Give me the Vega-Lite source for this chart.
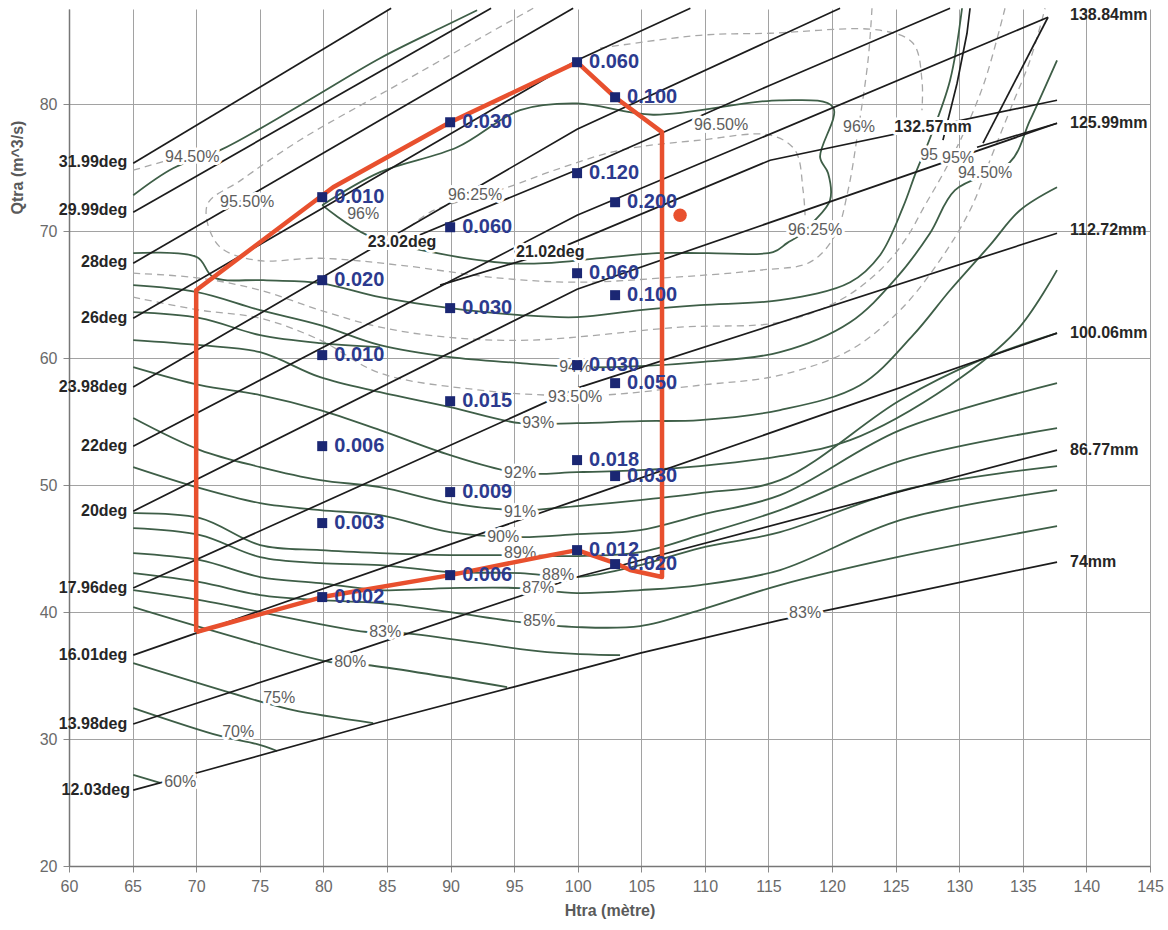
{
"$schema":"https://vega.github.io/schema/vega-lite/v6.json",
"width":1081,"height":857,
"autosize":{"type":"none"},
"padding":{"left":69,"top":9,"right":18,"bottom":64},
"background":"white",
"config":{"view":{"stroke":null},"font":"Liberation Sans"},
"datasets":{
"deg":[
{"id":"d12","i":0,"x":65.05,"y":25.98},{"id":"d12","i":1,"x":70.31,"y":27.4},{"id":"d12","i":2,"x":84.46,"y":31.34},{"id":"d12","i":3,"x":94.93,"y":34.09},{"id":"d12","i":4,"x":104.91,"y":36.77},{"id":"d12","i":5,"x":115.91,"y":39.37},{"id":"d12","i":6,"x":119.3,"y":40.08},{"id":"d12","i":7,"x":137.69,"y":43.94},
{"id":"d14","i":0,"x":65.05,"y":31.18},{"id":"d14","i":1,"x":79.91,"y":36.06},{"id":"d14","i":2,"x":99.95,"y":42.76},{"id":"d14","i":3,"x":137.69,"y":52.76},
{"id":"d16","i":0,"x":65.05,"y":36.61},{"id":"d16","i":1,"x":99.95,"y":48.82},{"id":"d16","i":2,"x":137.69,"y":61.97},
{"id":"d18","i":0,"x":65.05,"y":41.89},{"id":"d18","i":1,"x":99.95,"y":57.64},{"id":"d18","i":2,"x":137.69,"y":69.84},
{"id":"d20","i":0,"x":65.05,"y":47.95},{"id":"d20","i":1,"x":99.95,"y":65.43},{"id":"d20","i":2,"x":137.69,"y":78.5},
{"id":"d22","i":0,"x":65.05,"y":53.07},{"id":"d22","i":1,"x":99.95,"y":71.26},{"id":"d22","i":2,"x":136.98,"y":86.85},
{"id":"d24","i":0,"x":65.05,"y":57.72},{"id":"d24","i":1,"x":99.95,"y":78.03},{"id":"d24","i":2,"x":120.63,"y":87.56},
{"id":"d26","i":0,"x":65.05,"y":63.15},{"id":"d26","i":1,"x":99.95,"y":83.46},{"id":"d26","i":2,"x":108.86,"y":87.56},
{"id":"d28","i":0,"x":65.05,"y":67.48},{"id":"d28","i":1,"x":99.64,"y":87.56},
{"id":"d30","i":0,"x":65.05,"y":71.5},{"id":"d30","i":1,"x":93.19,"y":87.56},
{"id":"d32","i":0,"x":65.05,"y":75.35},{"id":"d32","i":1,"x":85.33,"y":87.56},
{"id":"m23","i":0,"x":86.19,"y":69.13},{"id":"m23","i":1,"x":101.76,"y":75.59},{"id":"m23","i":2,"x":115.13,"y":81.5},{"id":"m23","i":3,"x":129.28,"y":87.56},
{"id":"m21","i":0,"x":89.18,"y":65.75},{"id":"m21","i":1,"x":97.84,"y":68.35},{"id":"m21","i":2,"x":115.13,"y":75.59},{"id":"m21","i":3,"x":137.69,"y":80.31},
{"id":"l138","i":0,"x":131.87,"y":76.93},{"id":"l138","i":1,"x":136.98,"y":86.85},
{"id":"l126","i":0,"x":131.4,"y":76.61},{"id":"l126","i":1,"x":137.69,"y":78.5},
{"id":"l132","i":0,"x":128.72,"y":77.17},{"id":"l132","i":1,"x":129.83,"y":81.65},{"id":"l132","i":2,"x":130.61,"y":85.59},{"id":"l132","i":3,"x":130.85,"y":87.56}
],
"eff":[
{"id":"gTL","i":0,"x":65.05,"y":72.83},{"id":"gTL","i":1,"x":68.19,"y":74.96},{"id":"gTL","i":2,"x":71.89,"y":76.38},{"id":"gTL","i":3,"x":78.18,"y":79.92},{"id":"gTL","i":4,"x":84.46,"y":83.62},{"id":"gTL","i":5,"x":89.18,"y":85.98},{"id":"gTL","i":6,"x":92.09,"y":87.4},
{"id":"G96","i":0,"x":79.91,"y":72.05},{"id":"G96","i":1,"x":84.46,"y":74.65},{"id":"G96","i":2,"x":90.52,"y":76.61},{"id":"G96","i":3,"x":95.47,"y":79.53},{"id":"G96","i":4,"x":99.95,"y":80.06},{"id":"G96","i":5,"x":105.93,"y":79.17},{"id":"G96","i":6,"x":115.91,"y":80.31},{"id":"G96","i":7,"x":120.08,"y":79.76},{"id":"G96","i":8,"x":119.06,"y":75.83},{"id":"G96","i":9,"x":119.69,"y":74.57},{"id":"G96","i":10,"x":119.84,"y":72.44},{"id":"G96","i":11,"x":118.51,"y":70.71},{"id":"G96","i":12,"x":117.48,"y":69.69},{"id":"G96","i":13,"x":116.46,"y":69.06},{"id":"G96","i":14,"x":115.36,"y":68.35},{"id":"G96","i":15,"x":110.17,"y":68.27},{"id":"G96","i":16,"x":106.24,"y":68.27},{"id":"G96","i":17,"x":101.76,"y":67.87},{"id":"G96","i":18,"x":97.44,"y":67.48},{"id":"G96","i":19,"x":94.45,"y":67.48},{"id":"G96","i":20,"x":88.95,"y":68.27},{"id":"G96","i":21,"x":83.44,"y":69.69},{"id":"G96","i":22,"x":79.91,"y":72.05},
{"id":"g95","i":0,"x":65.05,"y":68.27},{"id":"g95","i":1,"x":70.08,"y":67.95},{"id":"g95","i":2,"x":71.34,"y":66.38},{"id":"g95","i":3,"x":75.27,"y":66.14},{"id":"g95","i":4,"x":79.75,"y":65.91},{"id":"g95","i":5,"x":84.46,"y":64.8},{"id":"g95","i":6,"x":89.97,"y":63.94},{"id":"g95","i":7,"x":95.47,"y":63.39},{"id":"g95","i":8,"x":99.95,"y":63.23},{"id":"g95","i":9,"x":104.91,"y":63.78},{"id":"g95","i":10,"x":109.62,"y":64.17},{"id":"g95","i":11,"x":115.91,"y":64.57},{"id":"g95","i":12,"x":121.42,"y":65.98},{"id":"g95","i":13,"x":123.77,"y":68.11},{"id":"g95","i":14,"x":125.58,"y":71.89},{"id":"g95","i":15,"x":126.6,"y":74.65},{"id":"g95","i":16,"x":127.7,"y":77.32},{"id":"g95","i":17,"x":129.28,"y":81.89},{"id":"g95","i":18,"x":130.22,"y":87.56},
{"id":"g94","i":0,"x":65.05,"y":65.75},{"id":"g94","i":1,"x":70.08,"y":65.2},{"id":"g94","i":2,"x":75.03,"y":63.78},{"id":"g94","i":3,"x":79.75,"y":62.6},{"id":"g94","i":4,"x":84.46,"y":61.02},{"id":"g94","i":5,"x":89.97,"y":60.08},{"id":"g94","i":6,"x":95.47,"y":59.61},{"id":"g94","i":7,"x":99.95,"y":59.29},{"id":"g94","i":8,"x":104.91,"y":59.37},{"id":"g94","i":9,"x":109.62,"y":59.69},{"id":"g94","i":10,"x":115.91,"y":60.47},{"id":"g94","i":11,"x":121.42,"y":62.83},{"id":"g94","i":12,"x":125.11,"y":66.38},{"id":"g94","i":13,"x":127.7,"y":69.84},{"id":"g94","i":14,"x":129.67,"y":73.23},{"id":"g94","i":15,"x":133.99,"y":75.43},{"id":"g94","i":16,"x":135.57,"y":78.74},{"id":"g94","i":17,"x":137.69,"y":83.46},
{"id":"gX","i":0,"x":65.05,"y":63.62},{"id":"gX","i":1,"x":70.31,"y":63.15},{"id":"gX","i":2,"x":75.03,"y":61.81},{"id":"gX","i":3,"x":79.75,"y":61.18},{"id":"gX","i":4,"x":84.46,"y":60.87},
{"id":"g93","i":0,"x":65.05,"y":61.42},{"id":"g93","i":1,"x":70.31,"y":61.02},{"id":"g93","i":2,"x":75.03,"y":60.47},{"id":"g93","i":3,"x":79.75,"y":58.5},{"id":"g93","i":4,"x":84.46,"y":57.32},{"id":"g93","i":5,"x":89.97,"y":56.14},{"id":"g93","i":6,"x":95.47,"y":54.88},{"id":"g93","i":7,"x":99.95,"y":54.88},{"id":"g93","i":8,"x":104.91,"y":55.04},{"id":"g93","i":9,"x":109.62,"y":55.12},{"id":"g93","i":10,"x":115.91,"y":55.91},{"id":"g93","i":11,"x":122.2,"y":57.87},{"id":"g93","i":12,"x":126.37,"y":61.81},{"id":"g93","i":13,"x":129.28,"y":65.35},{"id":"g93","i":14,"x":132.42,"y":68.9},{"id":"g93","i":15,"x":134.78,"y":71.65},{"id":"g93","i":16,"x":137.69,"y":73.46},
{"id":"g92","i":0,"x":65.05,"y":59.29},{"id":"g92","i":1,"x":70.31,"y":57.87},{"id":"g92","i":2,"x":75.03,"y":57.09},{"id":"g92","i":3,"x":79.75,"y":55.91},{"id":"g92","i":4,"x":84.46,"y":54.33},{"id":"g92","i":5,"x":89.97,"y":52.36},{"id":"g92","i":6,"x":95.47,"y":50.94},{"id":"g92","i":7,"x":99.95,"y":51.02},{"id":"g92","i":8,"x":104.91,"y":51.18},{"id":"g92","i":9,"x":109.62,"y":51.5},{"id":"g92","i":10,"x":115.91,"y":52.28},{"id":"g92","i":11,"x":121.42,"y":53.54},{"id":"g92","i":12,"x":129.28,"y":57.87},{"id":"g92","i":13,"x":134.54,"y":62.2},{"id":"g92","i":14,"x":137.69,"y":66.93},
{"id":"g91","i":0,"x":65.05,"y":55.28},{"id":"g91","i":1,"x":70.31,"y":52.76},{"id":"g91","i":2,"x":75.03,"y":51.42},{"id":"g91","i":3,"x":79.75,"y":50.39},{"id":"g91","i":4,"x":84.46,"y":49.84},{"id":"g91","i":5,"x":89.97,"y":48.58},{"id":"g91","i":6,"x":95.47,"y":48.03},{"id":"g91","i":7,"x":99.95,"y":48.35},{"id":"g91","i":8,"x":104.91,"y":48.82},{"id":"g91","i":9,"x":109.62,"y":49.37},{"id":"g91","i":10,"x":115.91,"y":50.39},{"id":"g91","i":11,"x":125.35,"y":56.69},{"id":"g91","i":12,"x":131.64,"y":59.84},{"id":"g91","i":13,"x":137.69,"y":61.97},
{"id":"g90","i":0,"x":65.05,"y":51.42},{"id":"g90","i":1,"x":70.31,"y":49.76},{"id":"g90","i":2,"x":75.03,"y":48.58},{"id":"g90","i":3,"x":79.75,"y":48.03},{"id":"g90","i":4,"x":84.46,"y":47.64},{"id":"g90","i":5,"x":89.97,"y":46.3},{"id":"g90","i":6,"x":95.47,"y":45.91},{"id":"g90","i":7,"x":99.95,"y":46.14},{"id":"g90","i":8,"x":104.91,"y":46.46},{"id":"g90","i":9,"x":109.62,"y":47.64},{"id":"g90","i":10,"x":115.91,"y":49.21},{"id":"g90","i":11,"x":125.35,"y":54.33},{"id":"g90","i":12,"x":137.69,"y":58.03},
{"id":"g89","i":0,"x":65.05,"y":47.8},{"id":"g89","i":1,"x":70.31,"y":47.4},{"id":"g89","i":2,"x":75.03,"y":45.28},{"id":"g89","i":3,"x":79.75,"y":44.88},{"id":"g89","i":4,"x":84.46,"y":44.65},{"id":"g89","i":5,"x":89.97,"y":44.49},{"id":"g89","i":6,"x":95.47,"y":44.49},{"id":"g89","i":7,"x":99.95,"y":44.41},{"id":"g89","i":8,"x":104.91,"y":44.72},{"id":"g89","i":9,"x":109.62,"y":46.06},{"id":"g89","i":10,"x":115.91,"y":48.03},{"id":"g89","i":11,"x":125.58,"y":51.97},{"id":"g89","i":12,"x":137.69,"y":54.49},
{"id":"g88","i":0,"x":65.05,"y":46.61},{"id":"g88","i":1,"x":70.31,"y":46.06},{"id":"g88","i":2,"x":75.03,"y":44.33},{"id":"g88","i":3,"x":79.75,"y":43.86},{"id":"g88","i":4,"x":84.46,"y":43.7},{"id":"g88","i":5,"x":89.97,"y":43.15},{"id":"g88","i":6,"x":95.47,"y":43.07},{"id":"g88","i":7,"x":99.95,"y":42.76},{"id":"g88","i":8,"x":104.91,"y":43.7},{"id":"g88","i":9,"x":109.62,"y":45.04},{"id":"g88","i":10,"x":115.91,"y":46.3},{"id":"g88","i":11,"x":125.58,"y":49.61},{"id":"g88","i":12,"x":137.69,"y":51.5},
{"id":"g87","i":0,"x":65.05,"y":44.65},{"id":"g87","i":1,"x":70.31,"y":44.09},{"id":"g87","i":2,"x":75.03,"y":42.76},{"id":"g87","i":3,"x":79.75,"y":42.28},{"id":"g87","i":4,"x":84.46,"y":41.73},{"id":"g87","i":5,"x":89.97,"y":41.89},{"id":"g87","i":6,"x":95.47,"y":41.89},{"id":"g87","i":7,"x":99.95,"y":41.5},{"id":"g87","i":8,"x":104.91,"y":41.73},{"id":"g87","i":9,"x":109.62,"y":42.13},{"id":"g87","i":10,"x":115.91,"y":43.31},{"id":"g87","i":11,"x":125.35,"y":47.24},{"id":"g87","i":12,"x":137.69,"y":49.61},
{"id":"g85","i":0,"x":65.05,"y":43.07},{"id":"g85","i":1,"x":70.31,"y":42.36},{"id":"g85","i":2,"x":75.03,"y":41.34},{"id":"g85","i":3,"x":79.75,"y":40.94},{"id":"g85","i":4,"x":84.46,"y":40.71},{"id":"g85","i":5,"x":89.97,"y":40.0},{"id":"g85","i":6,"x":95.47,"y":39.21},{"id":"g85","i":7,"x":99.95,"y":38.82},{"id":"g85","i":8,"x":104.91,"y":38.9},{"id":"g85","i":9,"x":109.62,"y":40.16},{"id":"g85","i":10,"x":115.91,"y":42.13},{"id":"g85","i":11,"x":125.11,"y":44.33},{"id":"g85","i":12,"x":137.69,"y":46.77},
{"id":"g83","i":0,"x":65.05,"y":41.73},{"id":"g83","i":1,"x":70.31,"y":40.94},{"id":"g83","i":2,"x":83.44,"y":38.43},{"id":"g83","i":3,"x":86.35,"y":38.35},{"id":"g83","i":4,"x":97.6,"y":36.85},{"id":"g83","i":5,"x":103.33,"y":36.61},
{"id":"g80","i":0,"x":65.05,"y":40.39},{"id":"g80","i":1,"x":80.53,"y":36.06},{"id":"g80","i":2,"x":83.44,"y":35.83},{"id":"g80","i":3,"x":94.45,"y":34.09},
{"id":"g75","i":0,"x":65.05,"y":35.98},{"id":"g75","i":1,"x":75.19,"y":32.91},{"id":"g75","i":2,"x":77.63,"y":32.28},{"id":"g75","i":3,"x":83.92,"y":31.26},
{"id":"g70","i":0,"x":65.05,"y":32.44},{"id":"g70","i":1,"x":71.89,"y":30.24},{"id":"g70","i":2,"x":74.72,"y":29.61},{"id":"g70","i":3,"x":76.37,"y":29.06},
{"id":"g60","i":0,"x":65.05,"y":27.17},{"id":"g60","i":1,"x":67.17,"y":26.54}
],
"dash":[
{"id":"d1","i":0,"x":96.5,"y":87.56},{"id":"d1","i":1,"x":86.04,"y":81.65},{"id":"d1","i":2,"x":78.2,"y":77.2},{"id":"d1","i":3,"x":73.5,"y":74.0},{"id":"d1","i":4,"x":70.86,"y":72.05},{"id":"d1","i":5,"x":71.73,"y":68.9},{"id":"d1","i":6,"x":74.64,"y":67.72},{"id":"d1","i":7,"x":79.75,"y":67.87},{"id":"d1","i":8,"x":86.04,"y":67.32},{"id":"d1","i":9,"x":93.9,"y":66.3},{"id":"d1","i":10,"x":99.95,"y":65.98},{"id":"d1","i":11,"x":106.48,"y":66.3},{"id":"d1","i":12,"x":114.34,"y":66.93},{"id":"d1","i":13,"x":118.27,"y":67.56},{"id":"d1","i":14,"x":120.24,"y":69.69},{"id":"d1","i":15,"x":121.26,"y":73.23},{"id":"d1","i":16,"x":122.05,"y":77.95},{"id":"d1","i":17,"x":122.83,"y":83.46},{"id":"d1","i":18,"x":123.14,"y":87.56},
{"id":"d2","i":0,"x":86.04,"y":69.69},{"id":"d2","i":1,"x":88.4,"y":71.5},{"id":"d2","i":2,"x":91.93,"y":72.68},{"id":"d2","i":3,"x":94.29,"y":73.39},{"id":"d2","i":4,"x":98.62,"y":74.96},{"id":"d2","i":5,"x":103.33,"y":76.38},{"id":"d2","i":6,"x":109.62,"y":77.17},{"id":"d2","i":7,"x":115.13,"y":77.56},{"id":"d2","i":8,"x":117.09,"y":76.38},{"id":"d2","i":9,"x":117.72,"y":73.23},{"id":"d2","i":10,"x":117.88,"y":71.26},
{"id":"d3","i":0,"x":65.05,"y":64.8},{"id":"d3","i":1,"x":70.31,"y":63.78},{"id":"d3","i":2,"x":75.03,"y":63.15},{"id":"d3","i":3,"x":79.75,"y":61.42},{"id":"d3","i":4,"x":84.46,"y":58.82},{"id":"d3","i":5,"x":92.33,"y":57.48},{"id":"d3","i":6,"x":97.6,"y":57.09},{"id":"d3","i":7,"x":102.0,"y":57.09},{"id":"d3","i":8,"x":109.62,"y":57.87},{"id":"d3","i":9,"x":115.91,"y":58.66},{"id":"d3","i":10,"x":121.42,"y":60.63},{"id":"d3","i":11,"x":125.35,"y":63.78},{"id":"d3","i":12,"x":128.49,"y":67.72},{"id":"d3","i":13,"x":130.85,"y":71.65},{"id":"d3","i":14,"x":132.42,"y":75.59},{"id":"d3","i":15,"x":133.99,"y":79.53},{"id":"d3","i":16,"x":135.57,"y":83.46},{"id":"d3","i":17,"x":136.75,"y":87.56},
{"id":"d4","i":0,"x":65.05,"y":66.69},{"id":"d4","i":1,"x":70.31,"y":66.3},{"id":"d4","i":2,"x":75.03,"y":65.35},{"id":"d4","i":3,"x":79.75,"y":63.78},{"id":"d4","i":4,"x":84.46,"y":62.44},{"id":"d4","i":5,"x":89.73,"y":61.65},{"id":"d4","i":6,"x":96.26,"y":61.42},{"id":"d4","i":7,"x":108.05,"y":62.44},{"id":"d4","i":8,"x":115.91,"y":62.83},{"id":"d4","i":9,"x":120.63,"y":64.57},{"id":"d4","i":10,"x":123.77,"y":66.93},{"id":"d4","i":11,"x":125.74,"y":69.29},{"id":"d4","i":12,"x":127.31,"y":72.05},{"id":"d4","i":13,"x":128.88,"y":74.8},{"id":"d4","i":14,"x":130.45,"y":77.95},{"id":"d4","i":15,"x":132.03,"y":81.89},{"id":"d4","i":16,"x":133.6,"y":87.56},
{"id":"d5","i":0,"x":65.05,"y":74.8},{"id":"d5","i":1,"x":68.35,"y":75.75},
{"id":"d6","i":0,"x":101.76,"y":84.41},{"id":"d6","i":1,"x":109.62,"y":85.43},{"id":"d6","i":2,"x":115.13,"y":85.59},{"id":"d6","i":3,"x":123.77,"y":85.83},{"id":"d6","i":4,"x":126.37,"y":84.8},{"id":"d6","i":5,"x":127.07,"y":81.89},{"id":"d6","i":6,"x":127.07,"y":79.53}
],
"env":[
{"i":0,"x":70.0,"y":38.43},{"i":1,"x":70.0,"y":65.35},{"i":2,"x":80.77,"y":73.46},{"i":3,"x":89.97,"y":78.58},{"i":4,"x":99.95,"y":83.31},{"i":5,"x":102.94,"y":80.55},{"i":6,"x":106.63,"y":77.8},{"i":7,"x":106.63,"y":42.76},{"i":8,"x":104.12,"y":43.31},{"i":9,"x":102.94,"y":43.86},{"i":10,"x":99.95,"y":44.88},{"i":11,"x":97.04,"y":44.33},{"i":12,"x":89.97,"y":42.91},{"i":13,"x":79.91,"y":41.18},{"i":14,"x":70.0,"y":38.43}
],
"pts":[
{"x":99.95,"y":83.31,"t":"0.060"},{"x":102.94,"y":80.55,"t":"0.100"},{"x":89.97,"y":78.58,"t":"0.030"},{"x":79.91,"y":72.68,"t":"0.010"},
{"x":99.95,"y":74.57,"t":"0.120"},{"x":102.94,"y":72.28,"t":"0.200"},{"x":89.97,"y":70.31,"t":"0.060"},{"x":79.91,"y":66.14,"t":"0.020"},
{"x":99.95,"y":66.69,"t":"0.060"},{"x":102.94,"y":64.96,"t":"0.100"},{"x":89.97,"y":63.94,"t":"0.030"},{"x":79.91,"y":60.24,"t":"0.010"},
{"x":99.95,"y":59.45,"t":"0.030"},{"x":102.94,"y":58.03,"t":"0.050"},{"x":89.97,"y":56.61,"t":"0.015"},{"x":79.91,"y":53.07,"t":"0.006"},
{"x":99.95,"y":51.97,"t":"0.018"},{"x":102.94,"y":50.71,"t":"0.030"},{"x":89.97,"y":49.45,"t":"0.009"},{"x":79.91,"y":47.01,"t":"0.003"},
{"x":99.95,"y":44.88,"t":"0.012"},{"x":102.94,"y":43.78,"t":"0.020"},{"x":89.97,"y":42.91,"t":"0.006"},{"x":79.91,"y":41.18,"t":"0.002"}
],
"effLabels":[
{"x":69.69,"y":75.83,"t":"94.50%"},{"x":74.01,"y":72.28,"t":"95.50%"},{"x":83.13,"y":71.34,"t":"96%"},{"x":91.93,"y":72.83,"t":"96.25%"},
{"x":111.27,"y":78.35,"t":"96.50%"},{"x":122.12,"y":78.19,"t":"96%"},{"x":127.63,"y":75.98,"t":"95"},{"x":129.91,"y":75.75,"t":"95%"},
{"x":132.03,"y":74.57,"t":"94.50%"},{"x":118.66,"y":70.08,"t":"96.25%"},{"x":99.8,"y":59.29,"t":"94%"},{"x":99.8,"y":56.93,"t":"93.50%"},
{"x":96.89,"y":54.88,"t":"93%"},{"x":95.47,"y":50.94,"t":"92%"},{"x":95.47,"y":47.87,"t":"91%"},{"x":94.14,"y":45.91,"t":"90%"},
{"x":95.47,"y":44.65,"t":"89%"},{"x":98.46,"y":42.91,"t":"88%"},{"x":96.89,"y":41.89,"t":"87%"},{"x":96.97,"y":39.29,"t":"85%"},
{"x":84.86,"y":38.43,"t":"83%"},{"x":82.11,"y":36.06,"t":"80%"},{"x":76.53,"y":33.23,"t":"75%"},{"x":73.3,"y":30.55,"t":"70%"},
{"x":68.74,"y":26.61,"t":"60%"},{"x":117.88,"y":39.92,"t":"83%"}
],
"midLabels":[
{"x":86.19,"y":69.13,"t":"23.02deg"},{"x":97.84,"y":68.35,"t":"21.02deg"},{"x":127.94,"y":78.19,"t":"132.57mm"}
],
"degLabels":[
{"x":64.58,"y":75.43,"t":"31.99deg"},{"x":64.58,"y":71.65,"t":"29.99deg"},{"x":64.58,"y":67.56,"t":"28deg"},{"x":64.58,"y":63.15,"t":"26deg"},
{"x":64.58,"y":57.72,"t":"23.98deg"},{"x":64.58,"y":53.07,"t":"22deg"},{"x":64.58,"y":47.95,"t":"20deg"},{"x":64.58,"y":41.89,"t":"17.96deg"},
{"x":64.58,"y":36.61,"t":"16.01deg"},{"x":64.58,"y":31.18,"t":"13.98deg"},{"x":64.8,"y":25.98,"t":"12.03deg"}
],
"mmLabels":[
{"x":138.71,"y":87.0,"t":"138.84mm"},{"x":138.71,"y":78.5,"t":"125.99mm"},{"x":138.71,"y":70.08,"t":"112.72mm"},
{"x":138.71,"y":61.97,"t":"100.06mm"},{"x":138.71,"y":52.76,"t":"86.77mm"},{"x":138.71,"y":43.94,"t":"74mm"}
],
"dot":[{"x":108.05,"y":71.26}]
},
"encoding":{
"x":{"field":"x","type":"quantitative","scale":{"domain":[60,145],"nice":false,"zero":false},
"axis":{"values":[60,65,70,75,80,85,90,95,100,105,110,115,120,125,130,135,140,145],"title":"Htra (mètre)","grid":true,"gridColor":"#a2a2a2","gridWidth":1,"domainColor":"#777777","domainWidth":1.5,"tickColor":"#8a8a8a","tickSize":6,"labelFontSize":16,"labelColor":"#6a6a6a","labelPadding":6,"labelFlush":false,"labelOverlap":false,"titleFontSize":16,"titleColor":"#5a5a5a","titleFontWeight":"bold","titlePadding":8}},
"y":{"field":"y","type":"quantitative","scale":{"domain":[20,87.5],"nice":false,"zero":false},
"axis":{"values":[20,30,40,50,60,70,80],"title":"Qtra (m^3/s)","grid":true,"gridColor":"#a2a2a2","gridWidth":1,"domainColor":"#777777","domainWidth":1.5,"tickColor":"#8a8a8a","tickSize":6,"labelFontSize":16,"labelColor":"#6a6a6a","labelPadding":6,"labelFlush":false,"labelOverlap":false,"titleFontSize":16,"titleColor":"#5a5a5a","titleFontWeight":"bold","titleAngle":270,"titleX":-52,"titleY":158,"titleAlign":"center","titleBaseline":"middle"}}
},
"layer":[
{"data":{"name":"dash"},"mark":{"type":"line","interpolate":"catmull-rom","color":"#a8a8a8","strokeWidth":1.3,"strokeDash":[7,5]},"encoding":{"detail":{"field":"id"},"order":{"field":"i","type":"quantitative"}}},
{"data":{"name":"eff"},"mark":{"type":"line","interpolate":"catmull-rom","color":"#3e5e47","strokeWidth":1.8},"encoding":{"detail":{"field":"id"},"order":{"field":"i","type":"quantitative"}}},
{"data":{"name":"deg"},"mark":{"type":"line","color":"#1c1c1c","strokeWidth":1.7},"encoding":{"detail":{"field":"id"},"order":{"field":"i","type":"quantitative"}}},
{"data":{"name":"effLabels"},"mark":{"type":"text","fontSize":16,"color":"white","stroke":"white","strokeWidth":6,"strokeJoin":"round"},"encoding":{"text":{"field":"t"}}},
{"data":{"name":"effLabels"},"mark":{"type":"text","fontSize":16,"color":"#5e5e5e"},"encoding":{"text":{"field":"t"}}},
{"data":{"name":"midLabels"},"mark":{"type":"text","fontSize":16,"fontWeight":"bold","color":"white","stroke":"white","strokeWidth":6,"strokeJoin":"round"},"encoding":{"text":{"field":"t"}}},
{"data":{"name":"midLabels"},"mark":{"type":"text","fontSize":16,"fontWeight":"bold","color":"#262626"},"encoding":{"text":{"field":"t"}}},
{"data":{"name":"degLabels"},"mark":{"type":"text","fontSize":16,"fontWeight":"bold","color":"#262626","align":"right"},"encoding":{"text":{"field":"t"}}},
{"data":{"name":"mmLabels"},"mark":{"type":"text","fontSize":16,"fontWeight":"bold","color":"#262626","align":"left"},"encoding":{"text":{"field":"t"}}},
{"data":{"name":"env"},"mark":{"type":"line","color":"#e8502e","strokeWidth":4.5,"strokeJoin":"round"},"encoding":{"order":{"field":"i","type":"quantitative"}}},
{"data":{"name":"dot"},"mark":{"type":"point","filled":true,"shape":"circle","size":180,"color":"#e8502e","opacity":1}},
{"data":{"name":"pts"},"mark":{"type":"square","size":100,"color":"#1b2773","opacity":1}},
{"data":{"name":"pts"},"mark":{"type":"text","fontSize":20,"fontWeight":"bold","color":"#2c3a8e","align":"left","dx":12},"encoding":{"text":{"field":"t"}}}
]
}
